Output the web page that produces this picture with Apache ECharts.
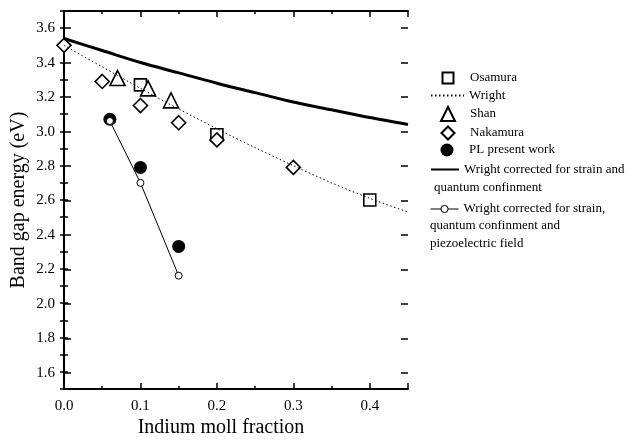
<!DOCTYPE html>
<html>
<head>
<meta charset="utf-8">
<script src="https://cdn.jsdelivr.net/npm/echarts@6/dist/echarts.min.js"></script>
<style>
  html, body { margin: 0; padding: 0; background: #fff; }
  #chart { width: 633px; height: 443px; }
</style>
</head>
<body>
<div id="chart"></div>
<script>
// 曲线取样点 (indium fraction)
const curveX = [0, 0.05, 0.1, 0.15, 0.2, 0.25, 0.3, 0.35, 0.4, 0.45];
const wrightY = [3.50, 3.375, 3.25, 3.13, 3.015, 2.905, 2.80, 2.70, 2.61, 2.53];
const wrightQcY = [3.54, 3.47, 3.40, 3.34, 3.28, 3.225, 3.17, 3.125, 3.08, 3.04];

// 实验点
const osamuraX = [0.1, 0.2, 0.4];
const osamuraY = [3.27, 2.98, 2.60];
const shanX = [0.07, 0.11, 0.14];
const shanY = [3.31, 3.25, 3.18];
const nakamuraX = [0, 0.05, 0.1, 0.15, 0.2, 0.3];
const nakamuraY = [3.50, 3.29, 3.15, 3.05, 2.95, 2.79];
const plX = [0.06, 0.1, 0.15];
const plY = [3.07, 2.79, 2.33];
const piezoX = [0.06, 0.1, 0.15];
const piezoY = [3.06, 2.70, 2.16];

const serif = "Liberation Serif";
const pair = (xs, ys) => xs.map((x, i) => [x, ys[i]]);

const chart = echarts.init(document.getElementById("chart"));

// 坐标轴公共样式
const lineAxis = { show: true, lineStyle: { color: "#000", width: 2 } };
const noLabel = { show: false };
const hidden = { color: "rgba(0,0,0,0)", borderColor: "rgba(0,0,0,0)", borderWidth: 0 };
const legendText = { fontFamily: serif, fontSize: 13, color: "#000" };

// 线型图例: 图标从 430 开始
const lineLegend = (name, top, itemWidth, itemHeight, itemStyle, lineStyle) => {
  const lg = {
    data: [name], left: 430, top: top - itemHeight / 2, padding: 0,
    itemWidth: itemWidth, itemHeight: itemHeight, selectedMode: false,
    textStyle: legendText
  };
  if (itemStyle) lg.itemStyle = itemStyle;
  if (lineStyle) lg.lineStyle = lineStyle;
  return lg;
};
// 符号图例: 符号中心在 447, 文字从 469 开始
const symbolLegend = (name, top, size) => ({
  data: [name], left: 447 - size / 2, top: top - size / 2, padding: 0,
  itemWidth: size, itemHeight: size, selectedMode: false,
  textStyle: Object.assign({ padding: [0, 0, 0, 17 - size / 2] }, legendText)
});

chart.setOption({
  animation: false,
  backgroundColor: "#fff",
  grid: [
    { left: 64, right: 225, top: 11, bottom: 53 },
    // 主刻度用的网格: 1.6 ~ 3.6 与主网格对齐
    { left: 64, right: 225, top: 28.2, bottom: 70.2 }
  ],
  xAxis: [
    {
      type: "value", gridIndex: 0, position: "bottom",
      min: 0, max: 0.45, interval: 0.1,
      axisLine: lineAxis,
      axisTick: { inside: true, length: 6, lineStyle: { color: "#000", width: 1.5 } },
      minorTick: { show: true, splitNumber: 2, length: 3, lineStyle: { color: "#000", width: 1.5 } },
      splitLine: { show: false },
      axisLabel: {
        showMaxLabel: false, margin: 9,
        fontFamily: serif, fontSize: 15, color: "#000",
        formatter: v => v.toFixed(1)
      },
      name: "Indium moll fraction",
      nameLocation: "middle",
      nameGap: 28,
      nameTextStyle: { fontFamily: serif, fontSize: 20, color: "#000", padding: [0, 30, 0, 0] }
    },
    {
      type: "value", gridIndex: 0, position: "top",
      min: 0, max: 0.45, interval: 0.1,
      axisLine: lineAxis,
      axisTick: { inside: true, length: 6, lineStyle: { color: "#000", width: 1.5 } },
      minorTick: { show: true, splitNumber: 2, length: 3, lineStyle: { color: "#000", width: 1.5 } },
      splitLine: { show: false },
      axisLabel: noLabel
    },
    { type: "value", gridIndex: 1, min: 0, max: 0.45, show: false }
  ],
  yAxis: [
    {
      type: "value", gridIndex: 0, position: "left",
      min: 1.5, max: 3.7, interval: 0.1,
      axisLine: lineAxis,
      axisTick: { inside: true, length: 4, lineStyle: { color: "#000", width: 1.5 } },
      splitLine: { show: false },
      axisLabel: noLabel,
      name: "Band gap energy (eV)",
      nameLocation: "middle",
      nameGap: 35,
      nameTextStyle: { fontFamily: serif, fontSize: 20, color: "#000" }
    },
    {
      type: "value", gridIndex: 0, position: "right",
      min: 1.5, max: 3.7, interval: 0.1,
      axisLine: lineAxis,
      axisTick: { inside: true, length: 4, lineStyle: { color: "#000", width: 1.5 } },
      splitLine: { show: false },
      axisLabel: noLabel
    },
    {
      type: "value", gridIndex: 1, position: "left",
      min: 1.6, max: 3.6, interval: 0.2,
      axisLine: { show: false },
      axisTick: { inside: true, length: 7, lineStyle: { color: "#000", width: 1.5 } },
      splitLine: { show: false },
      axisLabel: {
        margin: 9, fontFamily: serif, fontSize: 15, color: "#000",
        formatter: v => v.toFixed(1)
      }
    },
    {
      type: "value", gridIndex: 1, position: "right",
      min: 1.6, max: 3.6, interval: 0.2,
      axisLine: { show: false },
      axisTick: { inside: true, length: 7, lineStyle: { color: "#000", width: 1.5 } },
      splitLine: { show: false },
      axisLabel: noLabel
    }
  ],
  legend: [
    symbolLegend("Osamura", 77, 11),
    lineLegend("Wright", 95, 33, 12, hidden),
    symbolLegend("Shan", 113, 14),
    symbolLegend("Nakamura", 132, 13),
    symbolLegend("PL present work", 150, 13),
    lineLegend("Wright corrected for strain and", 169, 28, 12, hidden),
    lineLegend("Wright corrected for strain,", 207, 28, 9,
      { color: "#fff", borderColor: "#000", borderWidth: 1 }, { width: 1 })
  ],
  graphic: [
    { type: "text", left: 434, top: 181, style: { text: "quantum confinment", font: "13px " + serif, fill: "#000" } },
    { type: "text", left: 430, top: 219, style: { text: "quantum confinment and", font: "13px " + serif, fill: "#000" } },
    { type: "text", left: 430, top: 237, style: { text: "piezoelectric field", font: "13px " + serif, fill: "#000" } }
  ],
  series: [
    {
      name: "Wright corrected for strain and", type: "line",
      data: pair(curveX, wrightQcY), smooth: 0.3, symbol: "none",
      lineStyle: { color: "#000", width: 3 }, itemStyle: { color: "#000" }
    },
    {
      name: "Wright", type: "line",
      data: pair(curveX, wrightY), smooth: 0.3, symbol: "none",
      lineStyle: { color: "#000", width: 1, type: [1.5, 2.5] }, itemStyle: { color: "#000" }
    },
    {
      name: "Osamura", type: "scatter", symbol: "rect", symbolSize: 12,
      data: pair(osamuraX, osamuraY),
      itemStyle: { color: "#fff", borderColor: "#000", borderWidth: 1.6, opacity: 1 }
    },
    {
      name: "Shan", type: "scatter", symbol: "triangle", symbolSize: 15,
      data: pair(shanX, shanY),
      itemStyle: { color: "#fff", borderColor: "#000", borderWidth: 1.6, opacity: 1 }
    },
    {
      name: "Nakamura", type: "scatter", symbol: "diamond", symbolSize: 14,
      data: pair(nakamuraX, nakamuraY),
      itemStyle: { color: "#fff", borderColor: "#000", borderWidth: 1.6, opacity: 1 }
    },
    {
      name: "PL present work", type: "scatter", symbol: "circle", symbolSize: 13,
      data: pair(plX, plY),
      itemStyle: { color: "#000", opacity: 1 }
    },
    {
      name: "Wright corrected for strain,", type: "line",
      data: pair(piezoX, piezoY), symbol: "circle", symbolSize: 7, showSymbol: true,
      lineStyle: { color: "#000", width: 1 },
      itemStyle: { color: "#fff", borderColor: "#000", borderWidth: 1 }
    }
  ]
});
</script>
</body>
</html>
